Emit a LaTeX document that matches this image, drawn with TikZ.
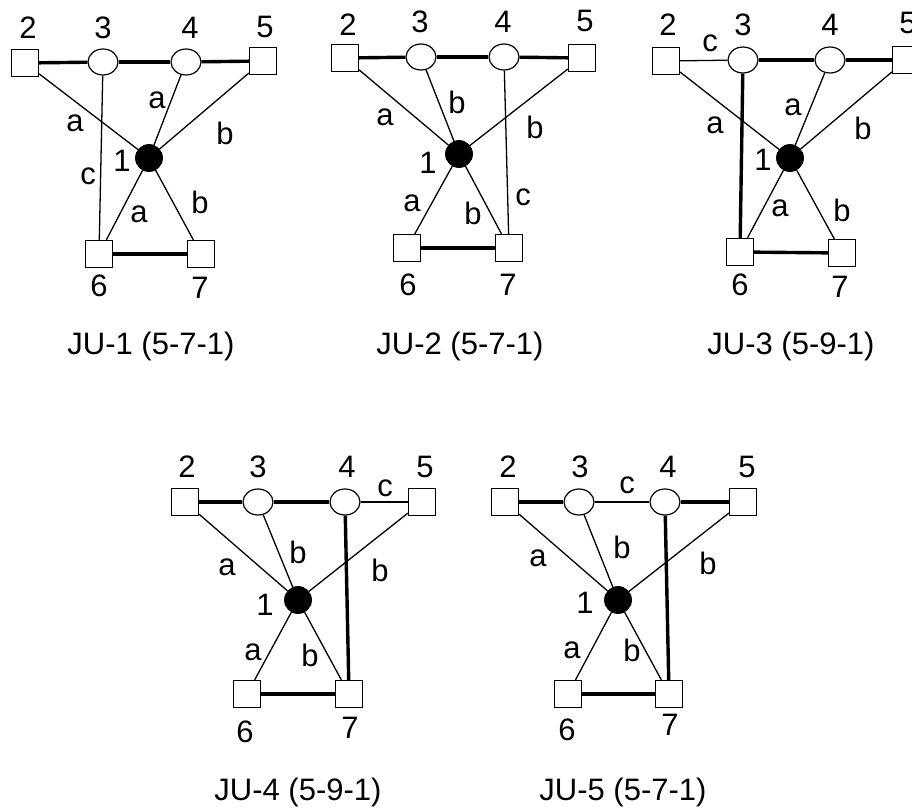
\documentclass[tikz,border=0pt]{standalone}
\usepackage{fontspec}
\setmainfont{Liberation Sans}
\usetikzlibrary{shapes.geometric}
\newcommand{\fsz}{\fontsize{15.5}{18}\selectfont}
\tikzset{
  sq/.style={draw, rectangle, minimum size=13.5pt, inner sep=0pt, fill=white, line width=0.6pt},
  ov/.style={draw, ellipse, minimum width=15pt, minimum height=13pt, inner sep=0pt, fill=white, line width=0.6pt},
  hub/.style={circle, fill=black, draw=black, minimum size=13.5pt, inner sep=0pt},
  lbl/.style={font=\fsz, inner sep=0pt},
  ln/.style={line width=0.65pt},
  bd/.style={line width=1.7pt},
}
\begin{document}
\begin{tikzpicture}[x=0.5pt, y=-0.5pt]
\clip (0,0) rectangle (912,809);
\useasboundingbox (0,0) rectangle (912,809);
\fill[white] (0,0) rectangle (912,809);

% ---------------- JU-1 ----------------
\node[sq]  (a2) at (25,63) {};
\node[ov]  (a3) at (103,62) {};
\node[ov]  (a4) at (186,62) {};
\node[sq]  (a5) at (263,61) {};
\node[hub] (a1) at (149,158) {};
\node[sq]  (a6) at (99,254) {};
\node[sq]  (a7) at (201,254) {};
\draw[bd] (a2) -- (a3); \draw[bd] (a3) -- (a4); \draw[bd] (a4) -- (a5); \draw[bd] (a6) -- (a7);
\draw[ln] (a2) -- (a1); \draw[ln] (a4) -- (a1); \draw[ln] (a5) -- (a1);
\draw[ln] (a3) -- (a6); \draw[ln] (a1) -- (a6); \draw[ln] (a1) -- (a7);
\node[lbl] (la2) at (28,28) {2};
\node[lbl] (la3) at (103,28) {3};
\node[lbl] (la4) at (190,28) {4};
\node[lbl] (la5) at (265,27) {5};
\node[lbl] (la1) at (122,161) {1};
\node[lbl] (la6) at (99,286) {6};
\node[lbl] (la7) at (200,288) {7};
\node[lbl] (ea21) at (75,123) {a};
\node[lbl] (ea41) at (157,100) {a};
\node[lbl] (ea51) at (225,133) {b};
\node[lbl] (ea36) at (88,176) {c};
\node[lbl] (ea16) at (139,214) {a};
\node[lbl] (ea17) at (200,202) {b};
\node[lbl] (ca) at (151,346) {JU-1 (5-7-1)};

% ---------------- JU-2 ----------------
\node[sq]  (b2) at (345,58) {};
\node[ov]  (b3) at (421,57) {};
\node[ov]  (b4) at (504,57) {};
\node[sq]  (b5) at (582,58) {};
\node[hub] (b1) at (459,154) {};
\node[sq]  (b6) at (407,248) {};
\node[sq]  (b7) at (509,248) {};
\draw[bd] (b2) -- (b3); \draw[bd] (b3) -- (b4); \draw[bd] (b4) -- (b5); \draw[bd] (b6) -- (b7);
\draw[ln] (b2) -- (b1); \draw[ln] (b3) -- (b1); \draw[ln] (b5) -- (b1);
\draw[ln] (b1) -- (b6); \draw[ln] (b1) -- (b7); \draw[ln] (b4) -- (b7);
\node[lbl] (lb2) at (348,25) {2};
\node[lbl] (lb3) at (420,22) {3};
\node[lbl] (lb4) at (503,22) {4};
\node[lbl] (lb5) at (585,21) {5};
\node[lbl] (lb1) at (428,163) {1};
\node[lbl] (lb6) at (408,285) {6};
\node[lbl] (lb7) at (508,285) {7};
\node[lbl] (eb21) at (385,117) {a};
\node[lbl] (eb31) at (457,102) {b};
\node[lbl] (eb51) at (535,127) {b};
\node[lbl] (eb16) at (412,203) {a};
\node[lbl] (eb17) at (473,213) {b};
\node[lbl] (eb47) at (523,197) {c};
\node[lbl] (cb) at (460,346) {JU-2 (5-7-1)};

% ---------------- JU-3 ----------------
\node[sq]  (c2) at (666,61) {};
\node[ov]  (c3) at (743,60) {};
\node[ov]  (c4) at (830,60) {};
\node[sq]  (c5) at (906,60) {};
\node[hub] (c1) at (790,158) {};
\node[sq]  (c6) at (740,252) {};
\node[sq]  (c7) at (842,253) {};
\draw[ln] (c2) -- (c3); \draw[bd] (c3) -- (c4); \draw[bd] (c4) -- (c5);
\draw[bd] (c3) -- (c6); \draw[bd] (c6) -- (c7);
\draw[ln] (c2) -- (c1); \draw[ln] (c4) -- (c1); \draw[ln] (c5) -- (c1);
\draw[ln] (c1) -- (c6); \draw[ln] (c1) -- (c7);
\node[lbl] (lc2) at (668,25) {2};
\node[lbl] (lc3) at (743,25) {3};
\node[lbl] (lc4) at (830,25) {4};
\node[lbl] (lc5) at (908,23) {5};
\node[lbl] (lc1) at (763,160) {1};
\node[lbl] (lc6) at (740,285) {6};
\node[lbl] (lc7) at (840,287) {7};
\node[lbl] (ec23) at (710,43) {c};
\node[lbl] (ec21) at (715,125) {a};
\node[lbl] (ec41) at (793,107) {a};
\node[lbl] (ec51) at (863,128) {b};
\node[lbl] (ec16) at (780,208) {a};
\node[lbl] (ec17) at (842,210) {b};
\node[lbl] (cc) at (791,346) {JU-3 (5-9-1)};

% ---------------- JU-4 ----------------
\node[sq]  (d2) at (185,502) {};
\node[ov]  (d3) at (258,502) {};
\node[ov]  (d4) at (345,502) {};
\node[sq]  (d5) at (422,502) {};
\node[hub] (d1) at (298,600) {};
\node[sq]  (d6) at (247,694) {};
\node[sq]  (d7) at (349,694) {};
\draw[bd] (d2) -- (d3); \draw[bd] (d3) -- (d4); \draw[ln] (d4) -- (d5);
\draw[bd] (d4) -- (d7); \draw[bd] (d6) -- (d7);
\draw[ln] (d2) -- (d1); \draw[ln] (d3) -- (d1); \draw[ln] (d5) -- (d1);
\draw[ln] (d1) -- (d6); \draw[ln] (d1) -- (d7);
\node[lbl] (ld2) at (187,467) {2};
\node[lbl] (ld3) at (258,467) {3};
\node[lbl] (ld4) at (347,467) {4};
\node[lbl] (ld5) at (425,467) {5};
\node[lbl] (ld1) at (265,605) {1};
\node[lbl] (ld6) at (245,732) {6};
\node[lbl] (ld7) at (350,728) {7};
\node[lbl] (ed45) at (385,488) {c};
\node[lbl] (ed21) at (227,567) {a};
\node[lbl] (ed31) at (298,552) {b};
\node[lbl] (ed51) at (380,570) {b};
\node[lbl] (ed16) at (253,652) {a};
\node[lbl] (ed17) at (310,655) {b};
\node[lbl] (cd) at (298,792) {JU-4 (5-9-1)};

% ---------------- JU-5 ----------------
\node[sq]  (e2) at (505,502) {};
\node[ov]  (e3) at (579,502) {};
\node[ov]  (e4) at (665,502) {};
\node[sq]  (e5) at (743,502) {};
\node[hub] (e1) at (618,600) {};
\node[sq]  (e6) at (568,694) {};
\node[sq]  (e7) at (669,694) {};
\draw[bd] (e2) -- (e3); \draw[ln] (e3) -- (e4); \draw[bd] (e4) -- (e5);
\draw[bd] (e4) -- (e7); \draw[bd] (e6) -- (e7);
\draw[ln] (e2) -- (e1); \draw[ln] (e3) -- (e1); \draw[ln] (e5) -- (e1);
\draw[ln] (e1) -- (e6); \draw[ln] (e1) -- (e7);
\node[lbl] (le2) at (508,467) {2};
\node[lbl] (le3) at (580,467) {3};
\node[lbl] (le4) at (668,467) {4};
\node[lbl] (le5) at (747,467) {5};
\node[lbl] (le1) at (585,603) {1};
\node[lbl] (le6) at (567,730) {6};
\node[lbl] (le7) at (670,725) {7};
\node[lbl] (ee34) at (627,485) {c};
\node[lbl] (ee21) at (538,558) {a};
\node[lbl] (ee31) at (622,547) {b};
\node[lbl] (ee51) at (708,563) {b};
\node[lbl] (ee16) at (572,650) {a};
\node[lbl] (ee17) at (632,650) {b};
\node[lbl] (ce) at (623,792) {JU-5 (5-7-1)};
\end{tikzpicture}
\end{document}
